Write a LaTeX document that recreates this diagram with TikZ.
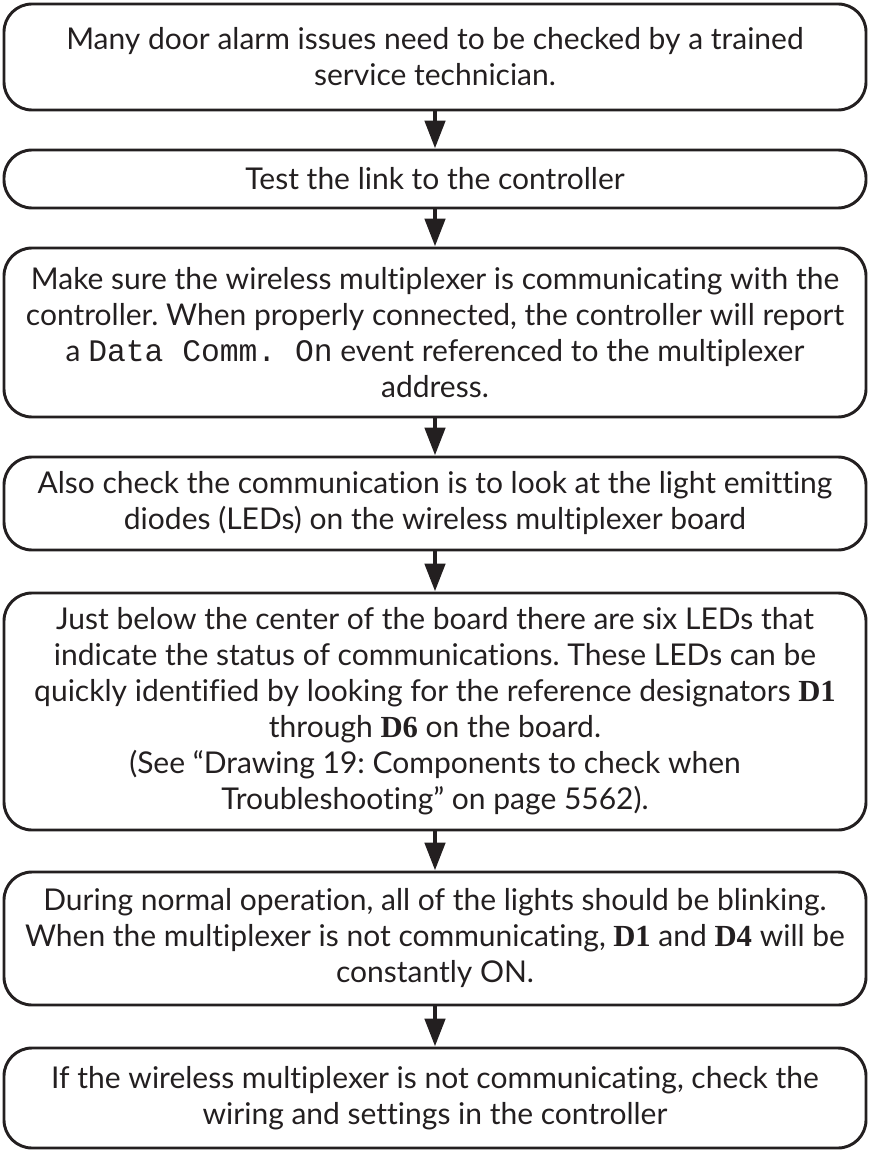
\documentclass[tikz,border=0pt]{standalone}
\usepackage{fontspec}
\setmainfont{Lato}[Ligatures=NoCommon]
\setmonofont{Liberation Mono}
\newfontfamily\designatorfont{Liberation Serif}
\usetikzlibrary{arrows.meta}
\definecolor{flow-ink}{HTML}{231F20}
\newlength{\basisdooralarmflow}
\setlength{\basisdooralarmflow}{0.75pt}
\newcommand{\designator}[1]{{\designatorfont\bfseries\fontsize{23}{27}\selectfont #1}}
\newcommand{\eventname}[1]{{\ttfamily\fontsize{23.5}{27}\selectfont #1}}
\frenchspacing

\begin{document}
\begin{tikzpicture}[
    flowbox/.style={minimum width=862\basisdooralarmflow, draw=flow-ink, line width=2.2pt,
        rounded corners=28\basisdooralarmflow, align=center, text=flow-ink,
        font=\fontsize{22.5}{27}\selectfont, inner sep=0pt},
    flowarrow/.style={-{Triangle[length=21pt,width=15pt]}, draw=flow-ink, fill=flow-ink, line width=3.6pt}
]
    \useasboundingbox (0,0) rectangle (870\basisdooralarmflow,-1151\basisdooralarmflow);

    \draw (435\basisdooralarmflow,-57\basisdooralarmflow) 
		node[flowbox, minimum height=106\basisdooralarmflow] 
			(door-alarm-issues) {Many door alarm issues need to be checked by a trained\\ service technician.};

    \draw (435\basisdooralarmflow,-179\basisdooralarmflow) 
		node[flowbox, minimum height=58\basisdooralarmflow] 
			(test-link) {Test the link to the controller};

    \draw (435\basisdooralarmflow,-332.5\basisdooralarmflow) 
		node[flowbox, minimum height=169\basisdooralarmflow] 
			(check-multiplexer) {Make sure the wireless multiplexer is communicating with the\\ controller. When properly connected, the controller will report\\ a \eventname{Data Comm. On} event referenced to the multiplexer\\ address.};

    \draw (435\basisdooralarmflow,-503.5\basisdooralarmflow) 
		node[flowbox, minimum height=93\basisdooralarmflow] 
			(check-leds) {Also check the communication is to look at the light emitting\\ diodes (LEDs) on the wireless multiplexer board};

    \draw (435\basisdooralarmflow,-711.5\basisdooralarmflow) 
		node[flowbox, minimum height=237\basisdooralarmflow] 
			(locate-leds) {Just below the center of the board there are six LEDs that\\ indicate the status of communications. These LEDs can be\\ quickly identified by looking for the reference designators \designator{D1}\\ through \designator{D6} on the board.\\ (See “Drawing 19: Components to check when\\ Troubleshooting” on page 5562).};

    \draw (435\basisdooralarmflow,-938.5\basisdooralarmflow) 
		node[flowbox, minimum height=133\basisdooralarmflow] 
			(normal-operation) {During normal operation, all of the lights should be blinking.\\ When the multiplexer is not communicating, \designator{D1} and \designator{D4} will be\\ constantly ON.};

    \draw (435\basisdooralarmflow,-1098\basisdooralarmflow) 
		node[flowbox, minimum height=100\basisdooralarmflow] 
			(check-wiring) {If the wireless multiplexer is not communicating, check the\\ wiring and settings in the controller};

	\draw[flowarrow] (door-alarm-issues) -- (test-link);
	\draw[flowarrow] (test-link) -- (check-multiplexer);
	\draw[flowarrow] (check-multiplexer) -- (check-leds);
	\draw[flowarrow] (check-leds) -- (locate-leds);
	\draw[flowarrow] (locate-leds) -- (normal-operation);
	\draw[flowarrow] (normal-operation) -- (check-wiring);
\end{tikzpicture}
\end{document}
